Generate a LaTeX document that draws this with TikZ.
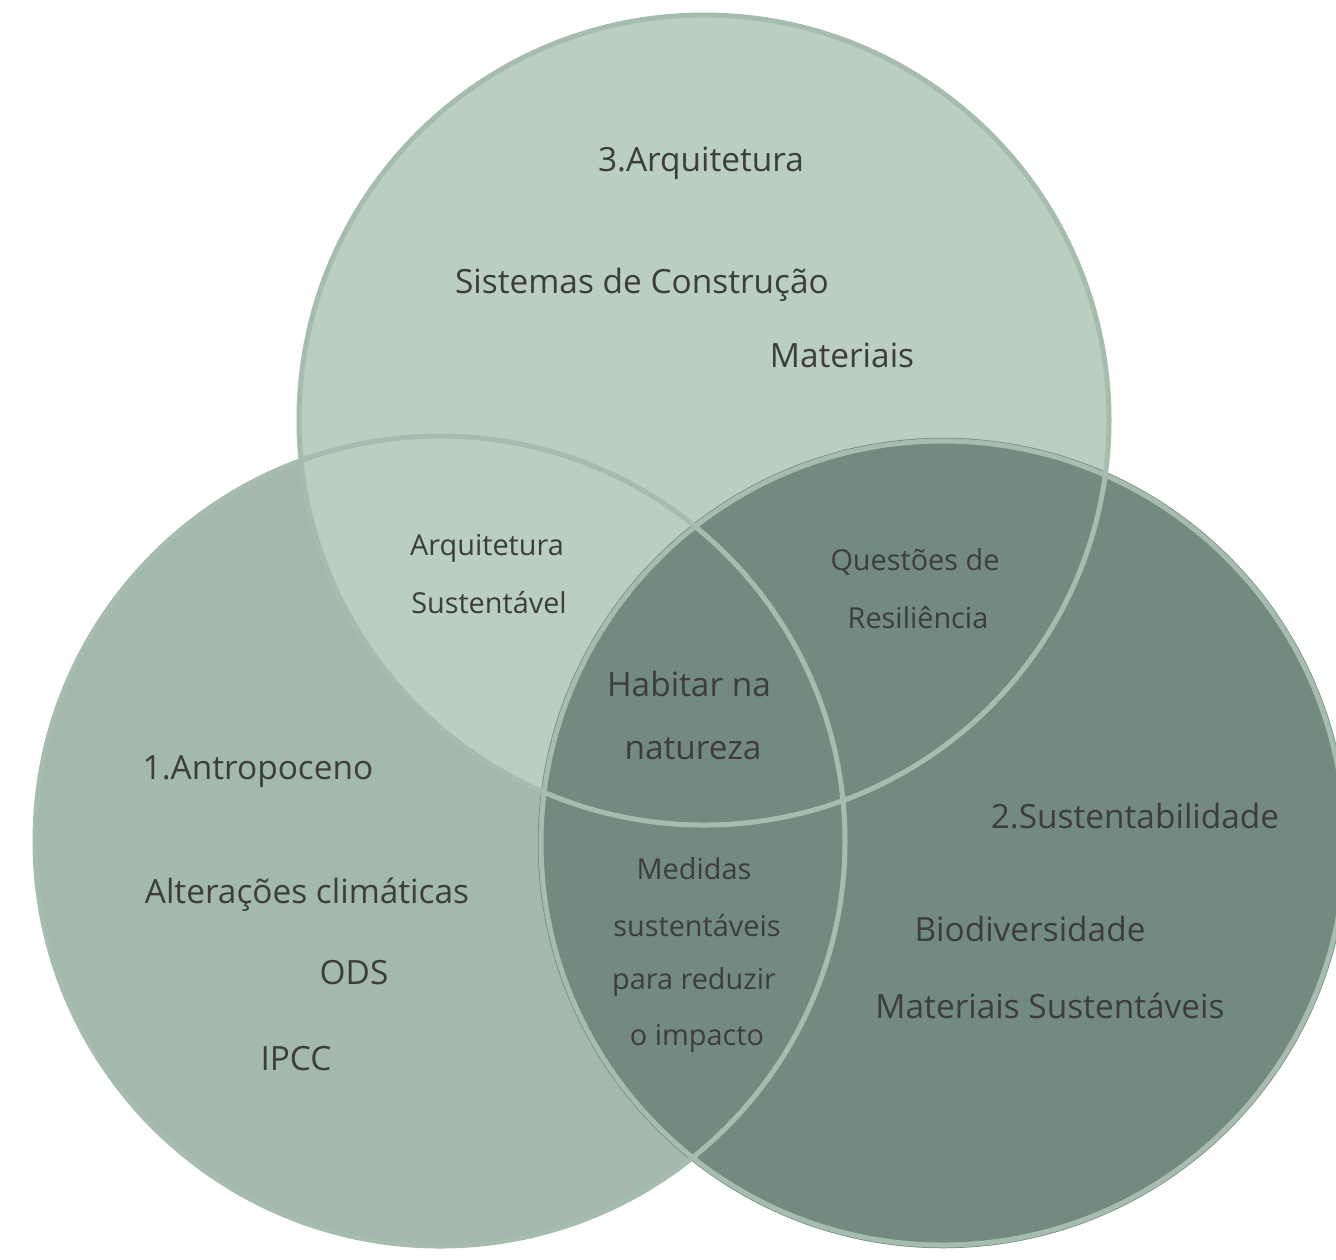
\documentclass[tikz,border=0pt]{standalone}
\usepackage{fontspec}
\setmainfont{Open Sans}
\usepackage{xcolor}
\usepackage{tikz}

\definecolor{sageLight}{HTML}{BACFC0}
\definecolor{sageMid}{HTML}{A3B9AB}
\definecolor{sageDark}{HTML}{738A80}
\definecolor{ringCol}{HTML}{A6BCAE}
\definecolor{inkGrey}{HTML}{3D3D3D}

\begin{document}
\begin{tikzpicture}[
  x=0.01cm, y=-0.01cm,
  setfill/.style = {circle, minimum size=8.1cm, inner sep=0pt, draw=none},
  ring/.style    = {draw=ringCol, line width=0.05cm},
  big/.style     = {text=inkGrey, font=\fontsize{9.5}{11}\selectfont, inner sep=0pt},
  small/.style   = {text=inkGrey, font=\fontsize{8.2}{10}\selectfont, inner sep=0pt}
]
\useasboundingbox (0,0) rectangle (1336,1259);

% the three sets
\node[setfill, fill=sageMid]   (antro) at (440,841) {};
\node[setfill, fill=sageLight] (arq)   at (704,420) {};
\node[setfill, fill=sageDark]  (sust)  at (943,843) {};

% outlines on top of all fills
\draw[ring] (antro.center) circle (405);
\draw[ring] (arq.center)   circle (405);
\draw[ring] (sust.center)  circle (402);

% 3. Arquitetura
\node[big] (arqTitle) at (701,163) {3.Arquitetura};
\node[big] (sistemas) at (642,285) {Sistemas de Construção};
\node[big] (materiais) at (842,355) {Materiais};

% 1. Antropoceno
\node[big] (antroTitle) at (258,772) {1.Antropoceno};
\node[big] (clima) at (307,895) {Alterações climáticas};
\node[big] (ods) at (354,973) {ODS};
\node[big] (ipcc) at (296,1059) {IPCC};

% 2. Sustentabilidade
\node[big] (sustTitle) at (1135,816) {2.Sustentabilidade};
\node[big] (biodiv) at (1030,929) {Biodiversidade};
\node[big] (matSust) at (1050,1006) {Materiais Sustentáveis};

% intersections
\node[small] (arqSust1) at (487,548) {Arquitetura};
\node[small] (arqSust2) at (489,603) {Sustentável};
\node[small] (resil1) at (915,562) {Questões de};
\node[small] (resil2) at (918,618) {Resiliência};
\node[big] (habitar1) at (689,684) {Habitar na};
\node[big] (habitar2) at (693,749) {natureza};
\node[small] (medidas1) at (694,869) {Medidas};
\node[small] (medidas2) at (697,926) {sustentáveis};
\node[small] (medidas3) at (694,982) {para reduzir};
\node[small] (medidas4) at (697,1038) {o impacto};
\end{tikzpicture}
\end{document}
